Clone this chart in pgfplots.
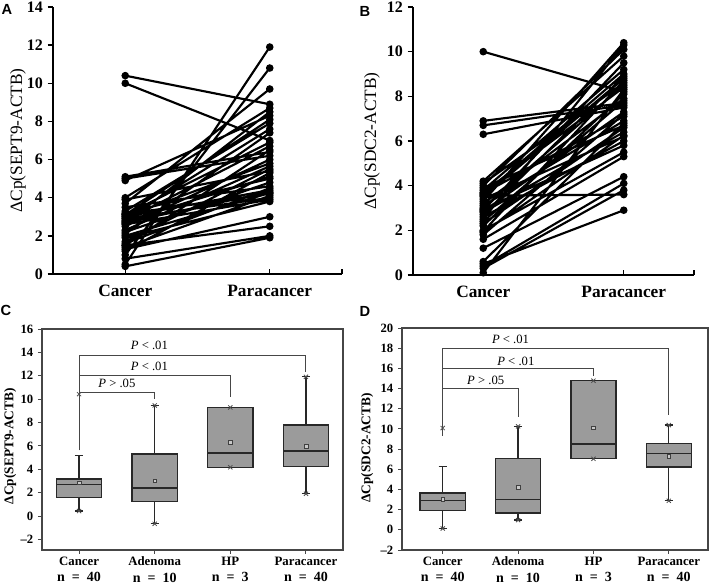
\documentclass[border=0pt]{standalone}
\usepackage{pgfplots}
\pgfplotsset{compat=1.18}
\usepgfplotslibrary{statistics}
\usepackage{fontspec}
\setmainfont{Liberation Serif}
\setsansfont{Liberation Sans}
\definecolor{boxfill}{RGB}{155,155,155}
\definecolor{boxedge}{RGB}{40,40,40}
\definecolor{framec}{RGB}{70,70,70}
\definecolor{meanc}{RGB}{200,200,200}

\newcommand{\nn}[1]{{\fontsize{10.5}{10.5}\selectfont n\enspace=\enspace#1}}
\tikzset{plab/.style={font=\fontsize{9.5}{9.5}\selectfont}}
\pgfplotsset{
  pairstyle/.style={
    scale only axis, clip=false,
    axis x line=bottom, axis y line=left,
    axis line style={-, line width=1.1pt},
    xmin=0.5, xmax=2.5, xtick={1,2,2.5}, xticklabels={Cancer,Paracancer,{}},
    tick align=outside, major tick length=4pt,
    x tick style={yshift=4pt, line width=1pt, black},
    y tick style={line width=1pt, black},
    yticklabel style={font=\bfseries\fontsize{12}{12}\selectfont},
    xticklabel style={font=\bfseries\fontsize{13}{13}\selectfont, yshift=-1pt},
    ylabel style={font=\fontsize{13}{13}\selectfont, anchor=center},
  },
  boxstyle/.style={
    scale only axis, clip=false,
    boxplot/draw direction=y,
    axis line style={framec, line width=0.8pt},
    xtick={1,2,3,4},
    xticklabels={{Cancer\\\nn{40}},{Adenoma\\\nn{10}},{HP\\\nn{3}},{Paracancer\\\nn{40}}},
    xticklabel style={align=center, font=\bfseries\fontsize{9.6}{12.5}\selectfont, yshift=1.5pt},
    tick align=outside, xtick pos=left, ytick pos=left,
    major tick length=3pt, tick style={framec, line width=0.7pt},
    yticklabel style={font=\bfseries\fontsize{9.5}{9.5}\selectfont},
    ylabel style={font=\bfseries\fontsize{10}{10}\selectfont, anchor=center},
  },
  bx/.style={draw=boxedge, fill=boxfill, line width=1pt, solid},
  brk/.style={framec, line width=0.7pt},
  mn/.style={only marks, mark=square*, mark size=1.4pt, mark options={draw=black!75, fill=meanc, line width=0.4pt}},
  mx/.style={only marks, mark=x, mark size=2.2pt, mark options={draw=black!70, line width=0.6pt}},
}

\begin{document}
\begin{tikzpicture}

% ---------- A ----------
\begin{axis}[pairstyle, at={(39.75pt,232.5pt)}, anchor=south west,
  width=216.75pt, height=200.25pt,
  ymin=0, ymax=14, ytick={0,2,...,14}, yticklabels={0,2,4,6,8,10,12,14},
  ylabel={ΔCp(SEPT9-ACTB)},
  ylabel style={at={(axis description cs:-0.121,0.5)}}]
\addplot[black, line width=1.6pt, mark=*, mark size=2pt, unbounded coords=jump] coordinates {
(1,10.4)(2,8.9)(1,nan)
(1,10.0)(2,7.0)(1,nan)
(1,5.1)(2,6.4)(1,nan)
(1,5.0)(2,6.2)(1,nan)
(1,4.9)(2,8.3)(1,nan)
(1,4.0)(2,8.7)(1,nan)
(1,3.9)(2,5.4)(1,nan)
(1,3.7)(2,9.7)(1,nan)
(1,3.5)(2,4.6)(1,nan)
(1,3.3)(2,7.9)(1,nan)
(1,3.2)(2,5.0)(1,nan)
(1,3.15)(2,4.2)(1,nan)
(1,3.1)(2,6.9)(1,nan)
(1,3.1)(2,8.1)(1,nan)
(1,3.0)(2,4.4)(1,nan)
(1,3.0)(2,5.8)(1,nan)
(1,2.9)(2,7.6)(1,nan)
(1,2.9)(2,4.0)(1,nan)
(1,2.8)(2,6.7)(1,nan)
(1,2.75)(2,5.1)(1,nan)
(1,2.7)(2,4.3)(1,nan)
(1,2.65)(2,8.5)(1,nan)
(1,2.6)(2,3.9)(1,nan)
(1,2.5)(2,6.0)(1,nan)
(1,2.3)(2,5.65)(1,nan)
(1,2.2)(2,4.8)(1,nan)
(1,2.1)(2,7.4)(1,nan)
(1,2.0)(2,4.25)(1,nan)
(1,1.9)(2,3.8)(1,nan)
(1,1.7)(2,5.5)(1,nan)
(1,1.6)(2,4.5)(1,nan)
(1,1.5)(2,2.5)(1,nan)
(1,1.5)(2,6.5)(1,nan)
(1,1.4)(2,4.1)(1,nan)
(1,1.3)(2,3.0)(1,nan)
(1,1.2)(2,5.3)(1,nan)
(1,1.0)(2,10.8)(1,nan)
(1,0.8)(2,2.0)(1,nan)
(1,0.5)(2,11.9)(1,nan)
(1,0.4)(2,1.9)
};
\end{axis}

% ---------- B ----------
\begin{axis}[pairstyle, at={(309.75pt,231.75pt)}, anchor=south west,
  width=210.75pt, height=201pt,
  ymin=0, ymax=12, ytick={0,2,...,12}, yticklabels={0,2,4,6,8,10,12},
  ylabel={ΔCp(SDC2-ACTB)},
  ylabel style={at={(axis description cs:-0.146,0.5)}}]
\addplot[black, line width=1.6pt, mark=*, mark size=2pt, unbounded coords=jump] coordinates {
(1,10.0)(2,8.2)(1,nan)
(1,6.9)(2,7.7)(1,nan)
(1,6.7)(2,7.6)(1,nan)
(1,6.3)(2,7.5)(1,nan)
(1,4.2)(2,9.8)(1,nan)
(1,4.1)(2,8.6)(1,nan)
(1,4.0)(2,10.1)(1,nan)
(1,3.9)(2,6.7)(1,nan)
(1,3.8)(2,9.2)(1,nan)
(1,3.7)(2,8.4)(1,nan)
(1,3.65)(2,7.1)(1,nan)
(1,3.6)(2,9.0)(1,nan)
(1,3.55)(2,3.6)(1,nan)
(1,3.5)(2,8.8)(1,nan)
(1,3.4)(2,6.2)(1,nan)
(1,3.3)(2,10.4)(1,nan)
(1,3.2)(2,7.9)(1,nan)
(1,3.1)(2,6.9)(1,nan)
(1,3.0)(2,8.5)(1,nan)
(1,2.95)(2,5.8)(1,nan)
(1,2.9)(2,9.5)(1,nan)
(1,2.85)(2,7.3)(1,nan)
(1,2.8)(2,6.4)(1,nan)
(1,2.7)(2,8.9)(1,nan)
(1,2.6)(2,6.0)(1,nan)
(1,2.5)(2,10.3)(1,nan)
(1,2.4)(2,7.8)(1,nan)
(1,2.3)(2,6.6)(1,nan)
(1,2.2)(2,8.1)(1,nan)
(1,2.0)(2,5.5)(1,nan)
(1,1.95)(2,8.7)(1,nan)
(1,1.9)(2,6.25)(1,nan)
(1,1.8)(2,7.2)(1,nan)
(1,1.6)(2,5.3)(1,nan)
(1,1.2)(2,4.4)(1,nan)
(1,0.6)(2,6.8)(1,nan)
(1,0.5)(2,2.9)(1,nan)
(1,0.4)(2,4.1)(1,nan)
(1,0.3)(2,3.8)(1,nan)
(1,0.1)(2,8.3)
};
\end{axis}

% ---------- C ----------
\begin{axis}[boxstyle, at={(31.5pt,25.5pt)}, anchor=south west,
  width=225.75pt, height=165.75pt,
  xmin=0.51, xmax=4.49, ymin=-2.9, ymax=16,
  ytick={-2,0,...,16}, yticklabels={--2,0,2,4,6,8,10,12,14,16},
  ylabel={ΔCp(SEPT9-ACTB)},
  ylabel style={at={(axis description cs:-0.106,0.47)}}]
\addplot[brk] coordinates {(1,5.63) (1,13.71) (4,13.71) (4,12.3)};
\addplot[brk] coordinates {(1,12.0) (3,12.0) (3,10.2)};
\addplot[brk] coordinates {(1,10.6) (2,10.6) (2,10.0)};
\addplot[bx, boxplot prepared={draw position=1, lower whisker=0.43, lower quartile=1.57, median=2.71, upper quartile=3.17, upper whisker=5.2, box extend=0.6, whisker extend=0.11}] coordinates {};
\addplot[bx, boxplot prepared={draw position=2, lower whisker=-0.66, lower quartile=1.23, median=2.4, upper quartile=5.31, upper whisker=9.46, box extend=0.6, whisker extend=0.11}] coordinates {};
\addplot[bx, boxplot prepared={draw position=3, lower whisker=4.17, lower quartile=4.17, median=5.4, upper quartile=9.29, upper whisker=9.29, box extend=0.6, whisker extend=0.11}] coordinates {};
\addplot[bx, boxplot prepared={draw position=4, lower whisker=1.91, lower quartile=4.26, median=5.57, upper quartile=7.8, upper whisker=11.91, box extend=0.6, whisker extend=0.11}] coordinates {};
\addplot[mn] coordinates {(1,2.86) (2,3.03) (3,6.29) (4,5.97)};
\addplot[mx] coordinates {(1,0.43) (1,10.43) (2,-0.66) (2,9.46) (3,4.17) (3,9.29) (4,1.91) (4,11.91)};
\node[plab] at (axis cs:1.93,14.63) {\textit{P} < .01};
\node[plab] at (axis cs:1.93,12.8) {\textit{P} < .01};
\node[plab] at (axis cs:1.5,11.35) {\textit{P} > .05};
\end{axis}

% ---------- D ----------
\begin{axis}[boxstyle, at={(301.5pt,25.5pt)}, anchor=south west,
  width=229.5pt, height=166.5pt,
  xmin=0.46, xmax=4.52, ymin=-2, ymax=20,
  ytick={-2,0,...,20}, yticklabels={--2,0,2,4,6,8,10,12,14,16,18,20},
  ylabel={ΔCp(SDC2-ACTB)},
  ylabel style={at={(axis description cs:-0.114,0.46)}}]
\addplot[brk] coordinates {(1,9.3) (1,17.95) (4,17.95) (4,11.4)};
\addplot[brk] coordinates {(1,15.97) (3,15.97) (3,15.2)};
\addplot[brk] coordinates {(1,14.05) (2,14.05) (2,11.2)};
\addplot[bx, boxplot prepared={draw position=1, lower whisker=0.13, lower quartile=1.92, median=2.91, upper quartile=3.64, upper whisker=6.28, box extend=0.6, whisker extend=0.11}] coordinates {};
\addplot[bx, boxplot prepared={draw position=2, lower whisker=0.96, lower quartile=1.65, median=2.98, upper quartile=7.07, upper whisker=10.25, box extend=0.6, whisker extend=0.11}] coordinates {};
\addplot[bx, boxplot prepared={draw position=3, lower whisker=7.04, lower quartile=7.04, median=8.5, upper quartile=14.78, upper whisker=14.78, box extend=0.6, whisker extend=0.11}] coordinates {};
\addplot[bx, boxplot prepared={draw position=4, lower whisker=2.88, lower quartile=6.21, median=7.54, upper quartile=8.56, upper whisker=10.38, box extend=0.6, whisker extend=0.11}] coordinates {};
\addplot[mn] coordinates {(1,3.04) (2,4.23) (3,10.12) (4,7.31)};
\addplot[mx] coordinates {(1,0.13) (1,10.08) (2,0.96) (2,10.25) (3,7.04) (3,14.78) (4,2.88) (4,10.38)};
\node[plab] at (axis cs:1.9,18.84) {\textit{P} < .01};
\node[plab] at (axis cs:1.97,16.69) {\textit{P} < .01};
\node[plab] at (axis cs:1.57,14.78) {\textit{P} > .05};
\end{axis}

\node[font=\sffamily\bfseries\fontsize{11}{11}\selectfont] at (5.25pt,431.25pt) {A};
\node[font=\sffamily\bfseries\fontsize{11}{11}\selectfont] at (273.75pt,429.75pt) {B};
\node[font=\sffamily\bfseries\fontsize{11}{11}\selectfont] at (4.5pt,205.5pt) {C};
\node[font=\sffamily\bfseries\fontsize{11}{11}\selectfont] at (273.75pt,204.75pt) {D};

\pgfresetboundingbox
\path (0pt,0pt) rectangle (531.75pt,438pt);
\end{tikzpicture}
\end{document}
